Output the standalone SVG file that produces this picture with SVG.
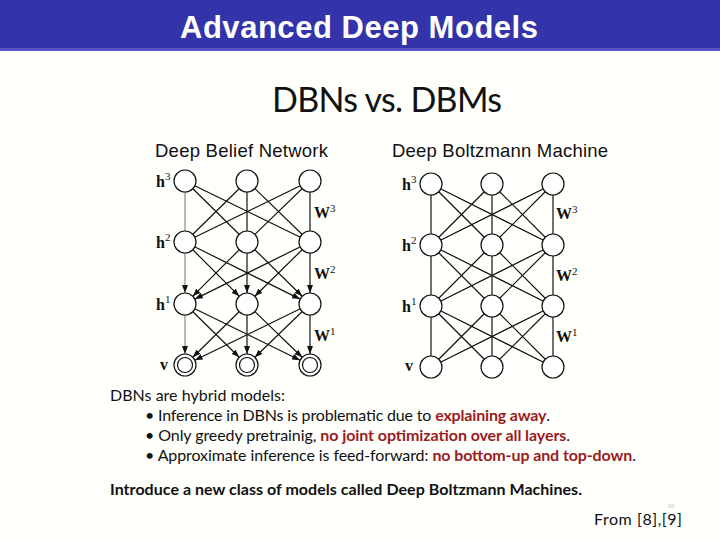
<svg xmlns="http://www.w3.org/2000/svg" width="720" height="540" viewBox="0 0 720 540">
<style>
.bar{fill:#3333AA}
.ttl{font-family:"Liberation Sans",Arial,sans-serif;font-weight:bold;fill:#fff}
.hd{font-family:"Liberation Sans",Arial,sans-serif;fill:#111}
.cal{font-family:Lato,"Liberation Sans",sans-serif;fill:#111}
.red{fill:#9B1C1C;font-weight:bold}
.lab{font-family:"Liberation Serif","Times New Roman",serif;font-weight:bold;font-size:16px;fill:#111}
.sup{font-size:11px;font-weight:normal}
.e{stroke:#111;stroke-width:1.2;fill:none}
.g{stroke:#8a8a8a;stroke-width:1.2;fill:none}
.a{stroke:#111;stroke-width:1.2;fill:none;marker-end:url(#arr)}
.ag{stroke:#8a8a8a;stroke-width:1.2;fill:none;marker-end:url(#arr)}
.n{fill:#fff;stroke:#111;stroke-width:1.2}
</style>
<defs>
<marker id="arr" markerUnits="userSpaceOnUse" markerWidth="9" markerHeight="7" refX="8" refY="3" orient="auto">
<path d="M0,0 L8,3 L0,6 z" fill="#111"/>
</marker>
</defs>
<rect width="720" height="540" fill="#FFFFFC"/>
<g id="title">
<rect class="bar" x="0" y="0" width="720" height="50"/>
<rect x="0" y="48" width="720" height="3" fill="#5555C4"/>
<text class="ttl" x="359" y="38" font-size="31" text-anchor="middle" textLength="358">Advanced Deep Models</text>
</g>
<text class="cal" x="272" y="112" font-size="34" textLength="230">DBNs vs. DBMs</text>
<text class="hd" x="155" y="157" font-size="18.5" textLength="173">Deep Belief Network</text>
<text class="hd" x="392" y="157" font-size="18.5" textLength="216">Deep Boltzmann Machine</text>

<g id="connectors">
<!-- DBN h3-h2 undirected -->
<line class="g" x1="185" y1="181" x2="185" y2="242"/>
<line class="e" x1="185" y1="181" x2="247" y2="242"/>
<line class="e" x1="185" y1="181" x2="310" y2="242"/>
<line class="e" x1="247" y1="181" x2="185" y2="242"/>
<line class="e" x1="247" y1="181" x2="247" y2="242"/>
<line class="e" x1="247" y1="181" x2="310" y2="242"/>
<line class="e" x1="310" y1="181" x2="185" y2="242"/>
<line class="e" x1="310" y1="181" x2="247" y2="242"/>
<line class="e" x1="310" y1="181" x2="310" y2="242"/>
<!-- DBN h2->h1 directed -->
<line class="ag" x1="185" y1="242" x2="185" y2="293"/>
<line class="a" x1="185" y1="242" x2="239.2" y2="296.2"/>
<line class="a" x1="185" y1="242" x2="300.1" y2="299.1"/>
<line class="a" x1="247" y1="242" x2="192.8" y2="296.2"/>
<line class="a" x1="247" y1="242" x2="247" y2="293"/>
<line class="a" x1="247" y1="242" x2="302.2" y2="296.3"/>
<line class="a" x1="310" y1="242" x2="194.9" y2="299.1"/>
<line class="a" x1="310" y1="242" x2="254.8" y2="296.3"/>
<line class="a" x1="310" y1="242" x2="310" y2="293"/>
<!-- DBN h1->v directed -->
<line class="ag" x1="185" y1="304" x2="185" y2="354"/>
<line class="a" x1="185" y1="304" x2="239.2" y2="357.3"/>
<line class="a" x1="185" y1="304" x2="300.1" y2="360.2"/>
<line class="a" x1="247" y1="304" x2="192.8" y2="357.3"/>
<line class="a" x1="247" y1="304" x2="247" y2="354"/>
<line class="a" x1="247" y1="304" x2="302.1" y2="357.3"/>
<line class="a" x1="310" y1="304" x2="194.9" y2="360.2"/>
<line class="a" x1="310" y1="304" x2="254.9" y2="357.3"/>
<line class="a" x1="310" y1="304" x2="310" y2="354"/>
<!-- DBM all undirected -->
<line class="e" x1="431" y1="184" x2="431" y2="245"/>
<line class="e" x1="431" y1="184" x2="492" y2="245"/>
<line class="e" x1="431" y1="184" x2="553" y2="245"/>
<line class="e" x1="492" y1="184" x2="431" y2="245"/>
<line class="e" x1="492" y1="184" x2="492" y2="245"/>
<line class="e" x1="492" y1="184" x2="553" y2="245"/>
<line class="e" x1="553" y1="184" x2="431" y2="245"/>
<line class="e" x1="553" y1="184" x2="492" y2="245"/>
<line class="e" x1="553" y1="184" x2="553" y2="245"/>
<line class="e" x1="431" y1="245" x2="431" y2="306"/>
<line class="e" x1="431" y1="245" x2="492" y2="306"/>
<line class="e" x1="431" y1="245" x2="553" y2="306"/>
<line class="e" x1="492" y1="245" x2="431" y2="306"/>
<line class="e" x1="492" y1="245" x2="492" y2="306"/>
<line class="e" x1="492" y1="245" x2="553" y2="306"/>
<line class="e" x1="553" y1="245" x2="431" y2="306"/>
<line class="e" x1="553" y1="245" x2="492" y2="306"/>
<line class="e" x1="553" y1="245" x2="553" y2="306"/>
<line class="e" x1="431" y1="306" x2="431" y2="367"/>
<line class="e" x1="431" y1="306" x2="492" y2="367"/>
<line class="e" x1="431" y1="306" x2="553" y2="367"/>
<line class="e" x1="492" y1="306" x2="431" y2="367"/>
<line class="e" x1="492" y1="306" x2="492" y2="367"/>
<line class="e" x1="492" y1="306" x2="553" y2="367"/>
<line class="e" x1="553" y1="306" x2="431" y2="367"/>
<line class="e" x1="553" y1="306" x2="492" y2="367"/>
<line class="e" x1="553" y1="306" x2="553" y2="367"/>
</g>

<g id="dbn-h3">
<circle class="n" cx="185" cy="181" r="11"/><circle class="n" cx="247" cy="181" r="11"/><circle class="n" cx="310" cy="181" r="11"/>
<text class="lab" x="156" y="187">h<tspan class="sup" dy="-7">3</tspan></text>
</g>
<g id="dbn-h2">
<circle class="n" cx="185" cy="242" r="11"/><circle class="n" cx="247" cy="242" r="11"/><circle class="n" cx="310" cy="242" r="11"/>
<text class="lab" x="156" y="248">h<tspan class="sup" dy="-7">2</tspan></text>
</g>
<g id="dbn-h1">
<circle class="n" cx="185" cy="304" r="11"/><circle class="n" cx="247" cy="304" r="11"/><circle class="n" cx="310" cy="304" r="11"/>
<text class="lab" x="156" y="310">h<tspan class="sup" dy="-7">1</tspan></text>
</g>
<g id="dbn-v">
<circle class="n" cx="185" cy="365" r="11"/><circle class="n" cx="185" cy="365" r="7.5"/>
<circle class="n" cx="247" cy="365" r="11"/><circle class="n" cx="247" cy="365" r="7.5"/>
<circle class="n" cx="310" cy="365" r="11"/><circle class="n" cx="310" cy="365" r="7.5"/>
<text class="lab" x="160" y="370">v</text>
</g>
<g id="dbn-w">
<text class="lab" x="314" y="218">W<tspan class="sup" dy="-6">3</tspan></text>
<text class="lab" x="314" y="279">W<tspan class="sup" dy="-6">2</tspan></text>
<text class="lab" x="314" y="341">W<tspan class="sup" dy="-6">1</tspan></text>
</g>

<g id="dbm-h3">
<circle class="n" cx="431" cy="184" r="11"/><circle class="n" cx="492" cy="184" r="11"/><circle class="n" cx="553" cy="184" r="11"/>
<text class="lab" x="402" y="190">h<tspan class="sup" dy="-7">3</tspan></text>
</g>
<g id="dbm-h2">
<circle class="n" cx="431" cy="245" r="11"/><circle class="n" cx="492" cy="245" r="11"/><circle class="n" cx="553" cy="245" r="11"/>
<text class="lab" x="402" y="251">h<tspan class="sup" dy="-7">2</tspan></text>
</g>
<g id="dbm-h1">
<circle class="n" cx="431" cy="306" r="11"/><circle class="n" cx="492" cy="306" r="11"/><circle class="n" cx="553" cy="306" r="11"/>
<text class="lab" x="402" y="312">h<tspan class="sup" dy="-7">1</tspan></text>
</g>
<g id="dbm-v">
<circle class="n" cx="431" cy="367" r="11"/><circle class="n" cx="492" cy="367" r="11"/><circle class="n" cx="553" cy="367" r="11"/>
<text class="lab" x="405" y="371">v</text>
</g>
<g id="dbm-w">
<text class="lab" x="556" y="219">W<tspan class="sup" dy="-6">3</tspan></text>
<text class="lab" x="556" y="281">W<tspan class="sup" dy="-6">2</tspan></text>
<text class="lab" x="556" y="342">W<tspan class="sup" dy="-6">1</tspan></text>
</g>

<g id="body" font-size="16">
<text class="cal" x="110" y="401" textLength="175">DBNs are hybrid models:</text>
<text class="cal" x="145" y="421" textLength="405">• Inference in DBNs is problematic due to <tspan class="red">explaining away</tspan>.</text>
<text class="cal" x="145" y="441" textLength="425">• Only greedy pretrainig, <tspan class="red">no joint optimization over all layers</tspan>.</text>
<text class="cal" x="145" y="461" textLength="491">• Approximate inference is feed-forward: <tspan class="red">no bottom-up and top-down</tspan>.</text>
<text class="cal" x="110" y="495" font-weight="bold" textLength="472">Introduce a new class of models called Deep Boltzmann Machines.</text>
<text class="cal" x="594" y="525" textLength="88">From [8],[9]</text>
<text x="668" y="508" font-family="Liberation Sans,sans-serif" font-size="6" fill="#c8c8c8">36</text>
</g>
</svg>
